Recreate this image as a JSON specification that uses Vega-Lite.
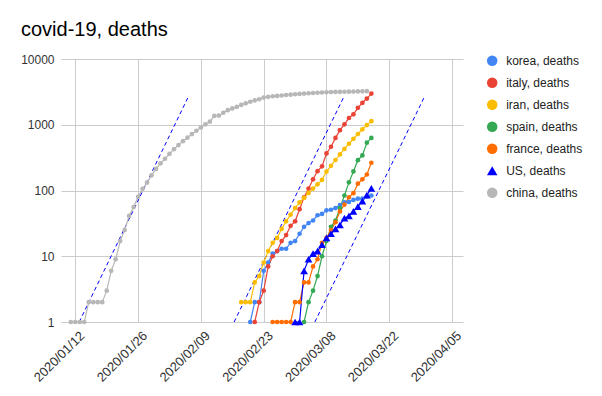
{
  "$schema": "https://vega.github.io/schema/vega-lite/v6.json",
  "width": 402,
  "height": 263,
  "autosize": {"type": "none"},
  "padding": {"left": 61, "top": 59, "right": 139, "bottom": 74},
  "background": "white",
  "title": {"text": "covid-19, deaths", "anchor": "start", "frame": "group", "dx": -40, "offset": 13, "fontSize": 20, "font": "Liberation Sans", "fontWeight": "normal", "color": "#000000"},
  "config": {
    "view": {"stroke": null},
    "font": "Liberation Sans",
    "axis": {"gridColor": "#cccccc", "gridWidth": 1, "domain": false, "ticks": false, "labelFont": "Liberation Sans", "labelFontSize": 12, "labelColor": "#444444", "title": null}
  },
  "datasets": {
    "trend": [
      {"trend": "A", "date": "2020-01-12T21:00:00Z", "deaths": 1},
      {"trend": "A", "date": "2020-02-06T01:30:00Z", "deaths": 2550},
      {"trend": "B", "date": "2020-02-16T09:40:00Z", "deaths": 1},
      {"trend": "B", "date": "2020-03-11T17:45:00Z", "deaths": 2550},
      {"trend": "C", "date": "2020-03-05T09:36:00Z", "deaths": 1},
      {"trend": "C", "date": "2020-03-29T16:48:00Z", "deaths": 2550}
    ],
    "series": [
      {"country": "korea, deaths", "date": "2020-02-20", "deaths": 1},
      {"country": "korea, deaths", "date": "2020-02-21", "deaths": 2},
      {"country": "korea, deaths", "date": "2020-02-22", "deaths": 2},
      {"country": "korea, deaths", "date": "2020-02-23", "deaths": 6},
      {"country": "korea, deaths", "date": "2020-02-24", "deaths": 8},
      {"country": "korea, deaths", "date": "2020-02-25", "deaths": 11},
      {"country": "korea, deaths", "date": "2020-02-26", "deaths": 12},
      {"country": "korea, deaths", "date": "2020-02-27", "deaths": 13},
      {"country": "korea, deaths", "date": "2020-02-28", "deaths": 13},
      {"country": "korea, deaths", "date": "2020-02-29", "deaths": 16},
      {"country": "korea, deaths", "date": "2020-03-01", "deaths": 17},
      {"country": "korea, deaths", "date": "2020-03-02", "deaths": 22},
      {"country": "korea, deaths", "date": "2020-03-03", "deaths": 28},
      {"country": "korea, deaths", "date": "2020-03-04", "deaths": 32},
      {"country": "korea, deaths", "date": "2020-03-05", "deaths": 35},
      {"country": "korea, deaths", "date": "2020-03-06", "deaths": 42},
      {"country": "korea, deaths", "date": "2020-03-07", "deaths": 44},
      {"country": "korea, deaths", "date": "2020-03-08", "deaths": 50},
      {"country": "korea, deaths", "date": "2020-03-09", "deaths": 51},
      {"country": "korea, deaths", "date": "2020-03-10", "deaths": 54},
      {"country": "korea, deaths", "date": "2020-03-11", "deaths": 60},
      {"country": "korea, deaths", "date": "2020-03-12", "deaths": 66},
      {"country": "korea, deaths", "date": "2020-03-13", "deaths": 67},
      {"country": "korea, deaths", "date": "2020-03-14", "deaths": 72},
      {"country": "korea, deaths", "date": "2020-03-15", "deaths": 75},
      {"country": "korea, deaths", "date": "2020-03-16", "deaths": 75},
      {"country": "korea, deaths", "date": "2020-03-17", "deaths": 81},
      {"country": "korea, deaths", "date": "2020-03-18", "deaths": 84},

      {"country": "italy, deaths", "date": "2020-02-21", "deaths": 1},
      {"country": "italy, deaths", "date": "2020-02-22", "deaths": 2},
      {"country": "italy, deaths", "date": "2020-02-23", "deaths": 3},
      {"country": "italy, deaths", "date": "2020-02-24", "deaths": 7},
      {"country": "italy, deaths", "date": "2020-02-25", "deaths": 10},
      {"country": "italy, deaths", "date": "2020-02-26", "deaths": 12},
      {"country": "italy, deaths", "date": "2020-02-27", "deaths": 17},
      {"country": "italy, deaths", "date": "2020-02-28", "deaths": 21},
      {"country": "italy, deaths", "date": "2020-02-29", "deaths": 29},
      {"country": "italy, deaths", "date": "2020-03-01", "deaths": 34},
      {"country": "italy, deaths", "date": "2020-03-02", "deaths": 52},
      {"country": "italy, deaths", "date": "2020-03-03", "deaths": 79},
      {"country": "italy, deaths", "date": "2020-03-04", "deaths": 107},
      {"country": "italy, deaths", "date": "2020-03-05", "deaths": 148},
      {"country": "italy, deaths", "date": "2020-03-06", "deaths": 197},
      {"country": "italy, deaths", "date": "2020-03-07", "deaths": 233},
      {"country": "italy, deaths", "date": "2020-03-08", "deaths": 366},
      {"country": "italy, deaths", "date": "2020-03-09", "deaths": 463},
      {"country": "italy, deaths", "date": "2020-03-10", "deaths": 631},
      {"country": "italy, deaths", "date": "2020-03-11", "deaths": 827},
      {"country": "italy, deaths", "date": "2020-03-12", "deaths": 1016},
      {"country": "italy, deaths", "date": "2020-03-13", "deaths": 1266},
      {"country": "italy, deaths", "date": "2020-03-14", "deaths": 1441},
      {"country": "italy, deaths", "date": "2020-03-15", "deaths": 1809},
      {"country": "italy, deaths", "date": "2020-03-16", "deaths": 2158},
      {"country": "italy, deaths", "date": "2020-03-17", "deaths": 2503},
      {"country": "italy, deaths", "date": "2020-03-18", "deaths": 2978},

      {"country": "iran, deaths", "date": "2020-02-18", "deaths": 2},
      {"country": "iran, deaths", "date": "2020-02-19", "deaths": 2},
      {"country": "iran, deaths", "date": "2020-02-20", "deaths": 2},
      {"country": "iran, deaths", "date": "2020-02-21", "deaths": 4},
      {"country": "iran, deaths", "date": "2020-02-22", "deaths": 5},
      {"country": "iran, deaths", "date": "2020-02-23", "deaths": 8},
      {"country": "iran, deaths", "date": "2020-02-24", "deaths": 12},
      {"country": "iran, deaths", "date": "2020-02-25", "deaths": 16},
      {"country": "iran, deaths", "date": "2020-02-26", "deaths": 19},
      {"country": "iran, deaths", "date": "2020-02-27", "deaths": 26},
      {"country": "iran, deaths", "date": "2020-02-28", "deaths": 34},
      {"country": "iran, deaths", "date": "2020-02-29", "deaths": 43},
      {"country": "iran, deaths", "date": "2020-03-01", "deaths": 54},
      {"country": "iran, deaths", "date": "2020-03-02", "deaths": 66},
      {"country": "iran, deaths", "date": "2020-03-03", "deaths": 77},
      {"country": "iran, deaths", "date": "2020-03-04", "deaths": 92},
      {"country": "iran, deaths", "date": "2020-03-05", "deaths": 107},
      {"country": "iran, deaths", "date": "2020-03-06", "deaths": 124},
      {"country": "iran, deaths", "date": "2020-03-07", "deaths": 145},
      {"country": "iran, deaths", "date": "2020-03-08", "deaths": 194},
      {"country": "iran, deaths", "date": "2020-03-09", "deaths": 237},
      {"country": "iran, deaths", "date": "2020-03-10", "deaths": 291},
      {"country": "iran, deaths", "date": "2020-03-11", "deaths": 354},
      {"country": "iran, deaths", "date": "2020-03-12", "deaths": 429},
      {"country": "iran, deaths", "date": "2020-03-13", "deaths": 514},
      {"country": "iran, deaths", "date": "2020-03-14", "deaths": 611},
      {"country": "iran, deaths", "date": "2020-03-15", "deaths": 724},
      {"country": "iran, deaths", "date": "2020-03-16", "deaths": 853},
      {"country": "iran, deaths", "date": "2020-03-17", "deaths": 988},
      {"country": "iran, deaths", "date": "2020-03-18", "deaths": 1135},

      {"country": "spain, deaths", "date": "2020-03-03", "deaths": 1},
      {"country": "spain, deaths", "date": "2020-03-04", "deaths": 2},
      {"country": "spain, deaths", "date": "2020-03-05", "deaths": 3},
      {"country": "spain, deaths", "date": "2020-03-06", "deaths": 5},
      {"country": "spain, deaths", "date": "2020-03-07", "deaths": 10},
      {"country": "spain, deaths", "date": "2020-03-08", "deaths": 17},
      {"country": "spain, deaths", "date": "2020-03-09", "deaths": 28},
      {"country": "spain, deaths", "date": "2020-03-10", "deaths": 35},
      {"country": "spain, deaths", "date": "2020-03-11", "deaths": 54},
      {"country": "spain, deaths", "date": "2020-03-12", "deaths": 84},
      {"country": "spain, deaths", "date": "2020-03-13", "deaths": 133},
      {"country": "spain, deaths", "date": "2020-03-14", "deaths": 195},
      {"country": "spain, deaths", "date": "2020-03-15", "deaths": 289},
      {"country": "spain, deaths", "date": "2020-03-16", "deaths": 342},
      {"country": "spain, deaths", "date": "2020-03-17", "deaths": 533},
      {"country": "spain, deaths", "date": "2020-03-18", "deaths": 630},

      {"country": "france, deaths", "date": "2020-02-25", "deaths": 1},
      {"country": "france, deaths", "date": "2020-02-26", "deaths": 1},
      {"country": "france, deaths", "date": "2020-02-27", "deaths": 1},
      {"country": "france, deaths", "date": "2020-02-28", "deaths": 1},
      {"country": "france, deaths", "date": "2020-02-29", "deaths": 1},
      {"country": "france, deaths", "date": "2020-03-01", "deaths": 2},
      {"country": "france, deaths", "date": "2020-03-02", "deaths": 2},
      {"country": "france, deaths", "date": "2020-03-03", "deaths": 4},
      {"country": "france, deaths", "date": "2020-03-04", "deaths": 4},
      {"country": "france, deaths", "date": "2020-03-05", "deaths": 7},
      {"country": "france, deaths", "date": "2020-03-06", "deaths": 9},
      {"country": "france, deaths", "date": "2020-03-07", "deaths": 16},
      {"country": "france, deaths", "date": "2020-03-08", "deaths": 19},
      {"country": "france, deaths", "date": "2020-03-09", "deaths": 25},
      {"country": "france, deaths", "date": "2020-03-10", "deaths": 33},
      {"country": "france, deaths", "date": "2020-03-11", "deaths": 48},
      {"country": "france, deaths", "date": "2020-03-12", "deaths": 61},
      {"country": "france, deaths", "date": "2020-03-13", "deaths": 79},
      {"country": "france, deaths", "date": "2020-03-14", "deaths": 91},
      {"country": "france, deaths", "date": "2020-03-15", "deaths": 127},
      {"country": "france, deaths", "date": "2020-03-16", "deaths": 148},
      {"country": "france, deaths", "date": "2020-03-17", "deaths": 175},
      {"country": "france, deaths", "date": "2020-03-18", "deaths": 264},

      {"country": "US, deaths", "date": "2020-03-01", "deaths": 1},
      {"country": "US, deaths", "date": "2020-03-02", "deaths": 1},
      {"country": "US, deaths", "date": "2020-03-03", "deaths": 6},
      {"country": "US, deaths", "date": "2020-03-04", "deaths": 9},
      {"country": "US, deaths", "date": "2020-03-05", "deaths": 11},
      {"country": "US, deaths", "date": "2020-03-06", "deaths": 12},
      {"country": "US, deaths", "date": "2020-03-07", "deaths": 15},
      {"country": "US, deaths", "date": "2020-03-08", "deaths": 19},
      {"country": "US, deaths", "date": "2020-03-09", "deaths": 22},
      {"country": "US, deaths", "date": "2020-03-10", "deaths": 26},
      {"country": "US, deaths", "date": "2020-03-11", "deaths": 30},
      {"country": "US, deaths", "date": "2020-03-12", "deaths": 38},
      {"country": "US, deaths", "date": "2020-03-13", "deaths": 41},
      {"country": "US, deaths", "date": "2020-03-14", "deaths": 48},
      {"country": "US, deaths", "date": "2020-03-15", "deaths": 57},
      {"country": "US, deaths", "date": "2020-03-16", "deaths": 69},
      {"country": "US, deaths", "date": "2020-03-17", "deaths": 85},
      {"country": "US, deaths", "date": "2020-03-18", "deaths": 108},

      {"country": "china, deaths", "date": "2020-01-11", "deaths": 1},
      {"country": "china, deaths", "date": "2020-01-12", "deaths": 1},
      {"country": "china, deaths", "date": "2020-01-13", "deaths": 1},
      {"country": "china, deaths", "date": "2020-01-14", "deaths": 1},
      {"country": "china, deaths", "date": "2020-01-15", "deaths": 2},
      {"country": "china, deaths", "date": "2020-01-16", "deaths": 2},
      {"country": "china, deaths", "date": "2020-01-17", "deaths": 2},
      {"country": "china, deaths", "date": "2020-01-18", "deaths": 2},
      {"country": "china, deaths", "date": "2020-01-19", "deaths": 3},
      {"country": "china, deaths", "date": "2020-01-20", "deaths": 6},
      {"country": "china, deaths", "date": "2020-01-21", "deaths": 9},
      {"country": "china, deaths", "date": "2020-01-22", "deaths": 17},
      {"country": "china, deaths", "date": "2020-01-23", "deaths": 25},
      {"country": "china, deaths", "date": "2020-01-24", "deaths": 41},
      {"country": "china, deaths", "date": "2020-01-25", "deaths": 56},
      {"country": "china, deaths", "date": "2020-01-26", "deaths": 80},
      {"country": "china, deaths", "date": "2020-01-27", "deaths": 106},
      {"country": "china, deaths", "date": "2020-01-28", "deaths": 132},
      {"country": "china, deaths", "date": "2020-01-29", "deaths": 170},
      {"country": "china, deaths", "date": "2020-01-30", "deaths": 213},
      {"country": "china, deaths", "date": "2020-01-31", "deaths": 259},
      {"country": "china, deaths", "date": "2020-02-01", "deaths": 304},
      {"country": "china, deaths", "date": "2020-02-02", "deaths": 361},
      {"country": "china, deaths", "date": "2020-02-03", "deaths": 425},
      {"country": "china, deaths", "date": "2020-02-04", "deaths": 490},
      {"country": "china, deaths", "date": "2020-02-05", "deaths": 563},
      {"country": "china, deaths", "date": "2020-02-06", "deaths": 636},
      {"country": "china, deaths", "date": "2020-02-07", "deaths": 722},
      {"country": "china, deaths", "date": "2020-02-08", "deaths": 811},
      {"country": "china, deaths", "date": "2020-02-09", "deaths": 908},
      {"country": "china, deaths", "date": "2020-02-10", "deaths": 1016},
      {"country": "china, deaths", "date": "2020-02-11", "deaths": 1113},
      {"country": "china, deaths", "date": "2020-02-12", "deaths": 1367},
      {"country": "china, deaths", "date": "2020-02-13", "deaths": 1380},
      {"country": "china, deaths", "date": "2020-02-14", "deaths": 1523},
      {"country": "china, deaths", "date": "2020-02-15", "deaths": 1665},
      {"country": "china, deaths", "date": "2020-02-16", "deaths": 1770},
      {"country": "china, deaths", "date": "2020-02-17", "deaths": 1868},
      {"country": "china, deaths", "date": "2020-02-18", "deaths": 2004},
      {"country": "china, deaths", "date": "2020-02-19", "deaths": 2118},
      {"country": "china, deaths", "date": "2020-02-20", "deaths": 2236},
      {"country": "china, deaths", "date": "2020-02-21", "deaths": 2345},
      {"country": "china, deaths", "date": "2020-02-22", "deaths": 2442},
      {"country": "china, deaths", "date": "2020-02-23", "deaths": 2592},
      {"country": "china, deaths", "date": "2020-02-24", "deaths": 2663},
      {"country": "china, deaths", "date": "2020-02-25", "deaths": 2715},
      {"country": "china, deaths", "date": "2020-02-26", "deaths": 2744},
      {"country": "china, deaths", "date": "2020-02-27", "deaths": 2788},
      {"country": "china, deaths", "date": "2020-02-28", "deaths": 2835},
      {"country": "china, deaths", "date": "2020-02-29", "deaths": 2870},
      {"country": "china, deaths", "date": "2020-03-01", "deaths": 2912},
      {"country": "china, deaths", "date": "2020-03-02", "deaths": 2943},
      {"country": "china, deaths", "date": "2020-03-03", "deaths": 2981},
      {"country": "china, deaths", "date": "2020-03-04", "deaths": 3012},
      {"country": "china, deaths", "date": "2020-03-05", "deaths": 3042},
      {"country": "china, deaths", "date": "2020-03-06", "deaths": 3070},
      {"country": "china, deaths", "date": "2020-03-07", "deaths": 3097},
      {"country": "china, deaths", "date": "2020-03-08", "deaths": 3119},
      {"country": "china, deaths", "date": "2020-03-09", "deaths": 3136},
      {"country": "china, deaths", "date": "2020-03-10", "deaths": 3158},
      {"country": "china, deaths", "date": "2020-03-11", "deaths": 3169},
      {"country": "china, deaths", "date": "2020-03-12", "deaths": 3176},
      {"country": "china, deaths", "date": "2020-03-13", "deaths": 3189},
      {"country": "china, deaths", "date": "2020-03-14", "deaths": 3199},
      {"country": "china, deaths", "date": "2020-03-15", "deaths": 3213},
      {"country": "china, deaths", "date": "2020-03-16", "deaths": 3226},
      {"country": "china, deaths", "date": "2020-03-17", "deaths": 3237}
    ]
  },
  "layer": [
    {
      "data": {"name": "trend"},
      "mark": {"type": "line", "color": "#0000ff", "strokeDash": [4, 3], "strokeWidth": 1},
      "encoding": {
        "x": {"field": "date", "type": "temporal"},
        "y": {"field": "deaths", "type": "quantitative"},
        "detail": {"field": "trend"}
      }
    },
    {
      "data": {"name": "series"},
      "encoding": {
        "x": {
          "field": "date", "type": "temporal",
          "scale": {"type": "utc", "domain": [{"year": 2020, "month": 1, "date": 8, "hours": 19, "minutes": 30, "utc": true}, {"year": 2020, "month": 4, "date": 7, "hours": 10, "minutes": 20, "utc": true}]},
          "axis": {
            "values": [
              {"year": 2020, "month": 1, "date": 12, "utc": true},
              {"year": 2020, "month": 1, "date": 26, "utc": true},
              {"year": 2020, "month": 2, "date": 9, "utc": true},
              {"year": 2020, "month": 2, "date": 23, "utc": true},
              {"year": 2020, "month": 3, "date": 8, "utc": true},
              {"year": 2020, "month": 3, "date": 22, "utc": true},
              {"year": 2020, "month": 4, "date": 5, "utc": true}
            ],
            "format": "%Y/%m/%d", "labelAngle": -45, "labelAlign": "right", "labelBaseline": "top", "labelPadding": 7, "labelOffset": 2.5, "labelFontSize": 13, "labelColor": "#333333", "grid": true, "title": null, "labelFlush": false, "labelOverlap": false
          }
        },
        "y": {
          "field": "deaths", "type": "quantitative",
          "scale": {"type": "log", "domain": [1, 10000]},
          "axis": {"values": [1, 10, 100, 1000, 10000], "format": "d", "labelPadding": 7, "labelColor": "#333333", "grid": true, "title": null}
        },
        "color": {"field": "country", "type": "nominal", "sort": null,
          "scale": {"domain": ["korea, deaths", "italy, deaths", "iran, deaths", "spain, deaths", "france, deaths", "US, deaths", "china, deaths"], "range": ["#4285f4", "#ea4335", "#fbbc04", "#34a853", "#ff6d01", "#0000ff", "#b7b7b7"]},
          "legend": {"title": null, "orient": "none", "legendX": 425.2, "legendY": -4.2, "padding": 0, "symbolSize": 110, "rowPadding": 10, "labelOffset": 8, "labelFontSize": 12, "labelColor": "#222222", "symbolStrokeWidth": 0}
        }
      },
      "layer": [
        {"mark": {"type": "line", "strokeWidth": 1.2}},
        {
          "mark": {"type": "point", "filled": true, "opacity": 1},
          "encoding": {
            "shape": {"field": "country", "type": "nominal", "sort": null,
              "scale": {"domain": ["korea, deaths", "italy, deaths", "iran, deaths", "spain, deaths", "france, deaths", "US, deaths", "china, deaths"], "range": ["circle", "circle", "circle", "circle", "circle", "triangle-up", "circle"]},
              "legend": {"title": null, "orient": "none", "legendX": 425.2, "legendY": -4.2, "padding": 0, "symbolSize": 110, "rowPadding": 10, "labelOffset": 8, "labelFontSize": 12, "labelColor": "#222222", "symbolStrokeWidth": 0}
            },
            "size": {"condition": {"test": "datum.country === 'US, deaths'", "value": 60}, "value": 22}
          }
        }
      ]
    }
  ]
}
